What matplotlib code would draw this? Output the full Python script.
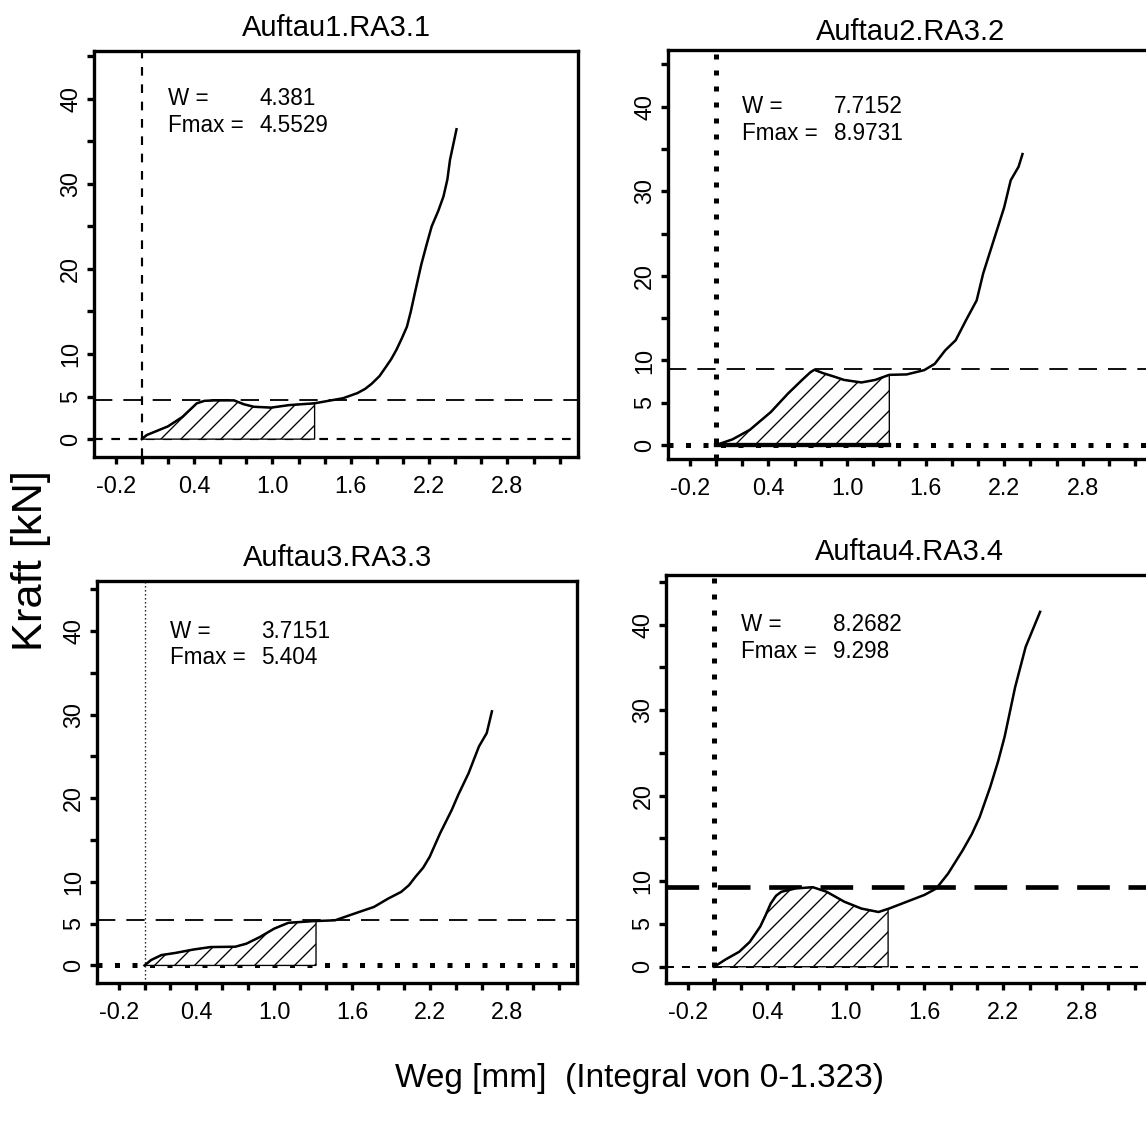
import numpy as np
import matplotlib
matplotlib.use("Agg")
import matplotlib.pyplot as plt

plt.rcParams['font.family'] = ['Liberation Sans', 'DejaVu Sans']
plt.rcParams['hatch.linewidth'] = 0.8

# Data
titles = ["Auftau1.RA3.1", "Auftau2.RA3.2", "Auftau3.RA3.3", "Auftau4.RA3.4"]
w_values = ["4.381", "7.7152", "3.7151", "8.2682"]
fmax_values = [4.5529, 8.9731, 5.404, 9.298]
fmax_labels = ["4.5529", "8.9731", "5.404", "9.298"]
x_end = 1.323

weg1 = [0, 0.036, 0.2, 0.31, 0.42, 0.48, 0.555, 0.706, 0.78, 0.857, 0.99, 1.13, 1.32, 1.54, 1.65,
        1.71, 1.76, 1.82, 1.87, 1.91, 1.95, 1.99, 2.03, 2.06, 2.09, 2.14, 2.18, 2.22, 2.27, 2.31,
        2.34, 2.36, 2.41]
kraft1 = [0, 0.47, 1.5, 2.6, 4.2, 4.5, 4.55, 4.55, 4.1, 3.8, 3.7, 4.0, 4.2, 4.8, 5.4,
          5.9, 6.5, 7.4, 8.5, 9.4, 10.5, 11.8, 13.2, 15.0, 17.1, 20.5, 22.8, 25.0, 26.8, 28.5,
          30.5, 32.8, 36.4]

weg2 = [0, 0.125, 0.258, 0.418, 0.55, 0.657, 0.72, 0.75, 0.817, 0.9, 0.977, 1.11, 1.216, 1.323,
        1.456, 1.59, 1.67, 1.75, 1.83, 1.91, 1.99, 2.04, 2.12, 2.2, 2.25, 2.31, 2.34]
kraft2 = [0, 0.67, 1.8, 3.9, 6.1, 7.7, 8.6, 8.9, 8.5, 8.1, 7.7, 7.4, 7.7, 8.3,
          8.35, 8.86, 9.6, 11.2, 12.4, 14.8, 17.1, 20.3, 24.2, 28.1, 31.3, 32.9, 34.4]

weg3 = [0, 0.05, 0.13, 0.24, 0.376, 0.51, 0.70, 0.785, 0.89, 1.0, 1.11, 1.30, 1.47,
        1.60, 1.77, 1.88, 1.98, 2.04, 2.09, 2.15, 2.2, 2.28, 2.37, 2.42, 2.5, 2.58, 2.64, 2.68]
kraft3 = [0, 0.64, 1.24, 1.5, 1.9, 2.2, 2.24, 2.6, 3.4, 4.4, 5.1, 5.3, 5.4,
          6.1, 7.0, 8.0, 8.8, 9.6, 10.6, 11.7, 13.0, 15.8, 18.6, 20.4, 23.0, 26.2, 27.8, 30.4]

weg4 = [0, 0.087, 0.19, 0.27, 0.35, 0.39, 0.43, 0.47, 0.51, 0.617, 0.75, 0.856, 0.99, 1.12, 1.25,
        1.33, 1.465, 1.6, 1.69, 1.78, 1.89, 1.96, 2.02, 2.1, 2.16, 2.21, 2.29, 2.37, 2.48]
kraft4 = [0, 0.86, 1.75, 2.9, 4.7, 6.0, 7.4, 8.3, 8.76, 9.15, 9.3, 8.76, 7.6, 6.8, 6.4,
          6.8, 7.6, 8.4, 9.15, 10.9, 13.6, 15.5, 17.5, 21.0, 24.0, 26.9, 32.7, 37.4, 41.5]

curves = [(weg1, kraft1), (weg2, kraft2), (weg3, kraft3), (weg4, kraft4)]

xticks = np.round(np.arange(-0.2, 3.21, 0.2), 1)
xlabels_shown = ["-0.2", "0.4", "1.0", "1.6", "2.2", "2.8"]
yticks = np.arange(0, 46, 5)
ylabels_shown = ["0", "5", "10", "20", "30", "40"]

# axes boxes in figure fractions [left, bottom, width, height]
boxes = [[0.0820, 0.5927, 0.4223, 0.3619],
         [0.5829, 0.5909, 0.4236, 0.3645],
         [0.0846, 0.1239, 0.4193, 0.3583],
         [0.5812, 0.1239, 0.4250, 0.3636]]
ylims = [(-2.1, 45.6), (-1.65, 46.7), (-2.1, 46.0), (-1.9, 45.8)]

# reference line styles per panel: (x=0 line, y=0 line, Fmax line)
vstyles = [dict(ls=(0, (4, 4)), lw=1.3), dict(ls=(0, (1, 2.2)), lw=3.0),
           dict(ls=(0, (1, 2)), lw=0.8), dict(ls=(0, (1, 2.2)), lw=3.0)]
hstyles = [dict(ls=(0, (4, 4)), lw=1.3), dict(ls=(0, (1, 2.5)), lw=3.0),
           dict(ls=(0, (1, 2.5)), lw=3.0), dict(ls=(0, (4, 4)), lw=1.2)]
fstyles = [dict(ls=(0, (10, 6)), lw=1.1), dict(ls=(0, (10, 6)), lw=1.1),
           dict(ls=(0, (10, 6)), lw=1.1), dict(ls=(0, (7, 4)), lw=2.8)]
title_pads = [9, 6, 9, 9]

fig = plt.figure(figsize=(9.55, 9.35), dpi=120)

for i in range(4):
    ax = fig.add_axes(boxes[i])
    x = np.array(curves[i][0])
    y = np.array(curves[i][1])

    # hatched integral area from 0 to x_end
    y_end = np.interp(x_end, x, y)
    xf = np.append(x[x < x_end], x_end)
    yf = np.append(y[x < x_end], y_end)
    ax.fill_between(xf, 0, yf, facecolor="white", edgecolor="black",
                    hatch="//", linewidth=0.8, zorder=2)
    if i == 1:
        ax.plot([0, x_end], [0, 0], color="black", lw=2.6, zorder=3)

    ax.plot(x, y, color="black", lw=1.5, zorder=4)

    ax.axvline(0, color="black", zorder=1, **vstyles[i])
    ax.axhline(0, color="black", zorder=1, **hstyles[i])
    ax.axhline(fmax_values[i], color="black", zorder=1, **fstyles[i])

    ax.text(0.2, 40.0, "W =", fontsize=13.5, va="center")
    ax.text(0.9, 40.0, w_values[i], fontsize=13.5, va="center")
    ax.text(0.2, 36.8, "Fmax =", fontsize=13.5, va="center")
    ax.text(0.9, 36.8, fmax_labels[i], fontsize=13.5, va="center")

    ax.set_xlim(-0.367, 3.34)
    ax.set_ylim(*ylims[i])
    ax.set_xticks(xticks)
    ax.set_xticklabels([f"{v:.1f}" if f"{v:.1f}" in xlabels_shown else "" for v in xticks])
    ax.set_yticks(yticks)
    ax.set_yticklabels([str(v) if str(v) in ylabels_shown else "" for v in yticks],
                       rotation=90, va="center")
    ax.tick_params(axis="both", length=4, width=2, labelsize=14, direction="out")
    ax.tick_params(axis="x", pad=7)
    ax.tick_params(axis="y", pad=3)
    for s in ax.spines.values():
        s.set_linewidth(2.0)
    ax.set_title(titles[i], fontsize=17.5, pad=title_pads[i])

fig.text(0.027, 0.5, "Kraft [kN]", rotation=90, fontsize=26, ha="center", va="center")
fig.text(0.558, 0.039, "Weg [mm]  (Integral von 0-1.323)", fontsize=20,
         ha="center", va="center")

fig.savefig("out.png", dpi=120)
